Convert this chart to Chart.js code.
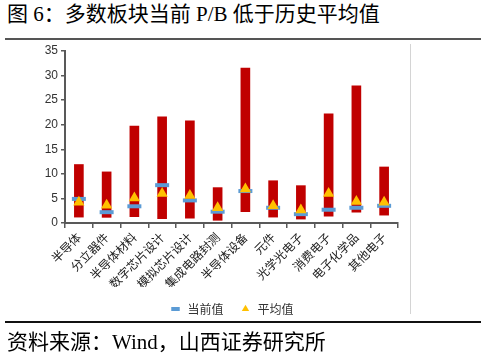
<!DOCTYPE html>
<html>
<head>
<meta charset="utf-8">
<script src="https://cdn.jsdelivr.net/npm/chart.js@4.4.1/dist/chart.umd.min.js"></script>
<style>
  html, body { margin: 0; padding: 0; background: #fff; width: 485px; height: 363px; overflow: hidden; }
  .title { position: absolute; left: 7px; top: 4px; font-size: 21px; line-height: 21px; white-space: nowrap;
           font-family: "Liberation Serif", "Noto Sans CJK SC", serif; color: #000; }
  .source { position: absolute; left: 7px; top: 332px; font-size: 21px; line-height: 21px; white-space: nowrap;
           font-family: "Liberation Serif", "Noto Sans CJK SC", serif; color: #000; }
  .topline { position: absolute; left: 5px; width: 476px; top: 38px; height: 2px; background: #555; }
  .botline { position: absolute; left: 5px; width: 476px; top: 321px; height: 1.5px; background: #111; }
  .vline { position: absolute; left: 410px; top: 44px; width: 1px; height: 270px; background: #d4d4d4; }
  #wrap { position: absolute; left: 0; top: 40px; width: 410px; height: 285px; }
</style>
</head>
<body>
<div class="title">图 6：多数板块当前 P/B 低于历史平均值</div>
<div class="topline"></div>
<div class="vline"></div>
<div id="wrap"><canvas id="c"></canvas></div>
<div class="botline"></div>
<div class="source">资料来源：Wind，山西证券研究所</div>
<script>
const categories = ['半导体','分立器件','半导体材料','数字芯片设计','模拟芯片设计','集成电路封测','半导体设备','元件','光学光电子','消费电子','电子化学品','其他电子'];
const lowValues  = [1.2, 1.15, 1.3, 0.9, 1.0, 0.55, 2.3, 1.2, 0.8, 1.4, 2.2, 1.6];
const highValues = [11.9, 10.4, 19.7, 21.6, 20.8, 7.2, 31.5, 8.6, 7.6, 22.2, 27.9, 11.4];
const currentValues = [4.9, 2.2, 3.4, 7.7, 4.6, 2.3, 6.5, 3.1, 1.8, 2.7, 3.1, 3.5];
const averageValues = [4.2, 3.6, 5.1, 6.0, 5.6, 3.1, 6.9, 3.5, 2.65, 6.0, 4.4, 4.2];
const yTicks = [0, 5, 10, 15, 20, 25, 30, 35];
const seriesNames = ['区间', '当前值', '平均值'];

const rangeData = lowValues.map((lo, i) => [lo, highValues[i]]);

new Chart(document.getElementById('c'), {
  type: 'bar',
  data: {
    labels: categories,
    datasets: [
      {
        label: seriesNames[0],
        data: rangeData,
        backgroundColor: '#c00000',
        borderWidth: 0,
        barThickness: 9,
        order: 3
      },
      {
        type: 'line',
        label: seriesNames[1],
        data: currentValues,
        showLine: false,
        pointStyle: 'line',
        pointRadius: 7,
        pointBorderWidth: 4,
        pointBorderColor: '#5b9bd5',
        pointBackgroundColor: '#5b9bd5',
        borderColor: '#5b9bd5',
        backgroundColor: '#5b9bd5',
        order: 2
      },
      {
        type: 'line',
        label: seriesNames[2],
        data: averageValues,
        showLine: false,
        pointStyle: 'triangle',
        pointRadius: 6.5,
        pointBorderWidth: 0,
        pointBorderColor: '#ffc000',
        pointBackgroundColor: '#ffc000',
        borderColor: '#ffc000',
        backgroundColor: '#ffc000',
        order: 1
      }
    ]
  },
  options: {
    responsive: true,
    maintainAspectRatio: false,
    animation: false,
    layout: { padding: { top: 10, right: 12, left: 0, bottom: 0 } },
    plugins: {
      tooltip: { enabled: false },
      legend: {
        position: 'bottom',
        fullSize: false,
        labels: {
          usePointStyle: true,
          boxHeight: 6,
          padding: 16,
          color: '#333',
          font: { family: '"Noto Sans CJK SC", sans-serif', size: 12 },
          filter: (item) => item.datasetIndex > 0,
          sort: (a, b) => a.datasetIndex - b.datasetIndex
        }
      }
    },
    scales: {
      x: {
        offset: true,
        grid: { offset: true, drawOnChartArea: false, drawTicks: true, tickLength: 5, color: '#595959', lineWidth: 1.5 },
        border: { display: true, color: '#595959', width: 2 },
        ticks: {
          minRotation: 45, maxRotation: 45, autoSkip: false, padding: 2,
          color: '#222',
          font: { family: '"Noto Sans CJK SC", sans-serif', size: 12 }
        },
        afterFit: (s) => { s.height = 64; }
      },
      y: {
        min: 0, max: 35,
        afterBuildTicks: (s) => { s.ticks = yTicks.map(v => ({ value: v })); },
        grid: { drawOnChartArea: false, drawTicks: true, tickLength: 4, color: '#595959', lineWidth: 1.5 },
        border: { display: true, color: '#595959', width: 2 },
        ticks: {
          padding: 3,
          color: '#333',
          font: { family: '"Liberation Sans", Arial, sans-serif', size: 12 }
        },
        afterFit: (s) => { s.width = 65; }
      }
    }
  }
});
</script>
</body>
</html>
